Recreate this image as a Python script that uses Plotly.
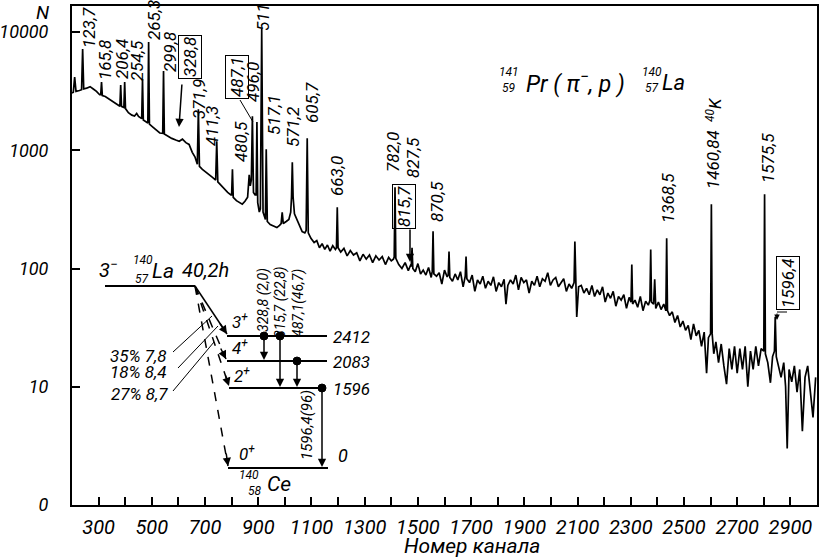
import plotly.graph_objects as go

# ---------------- data ----------------
channels_a = [200, 205, 210, 215, 228, 236, 240, 244, 255, 268, 280, 292,
              304, 308, 311, 314, 325, 340, 355, 370, 380, 383, 386, 395,
              398, 401, 412, 425, 435, 443, 450, 462, 465, 468, 480, 485,
              488, 491, 505, 518, 530, 541, 544, 547, 560, 575, 590, 603,
              615, 628, 640, 652, 662, 671, 675, 679, 690, 702, 715, 728,
              740, 744, 748, 760, 772, 785, 797, 800, 803, 806, 818, 830,
              840, 850, 860, 866, 870]
counts_a = [3050, 3100, 4150, 3150, 3200, 3250, 7180, 3300, 3350, 3450, 3300, 3150,
            2950, 2950, 3770, 2900, 2850, 2700, 2550, 2420, 2360, 3560, 2350, 2300,
            3770, 2250, 2080, 1980, 1950, 2050, 1930, 1850, 4000, 1800, 1720, 1700,
            8230, 1660, 1560, 1470, 1400, 1390, 4670, 1370, 1310, 1260, 1220, 1190,
            1240, 1160, 1120, 960, 880, 760, 2225, 730, 690, 660, 630, 590,
            560, 1192, 540, 505, 470, 440, 420, 420, 690, 400, 375, 360,
            350, 370, 400, 620, 500]

channels_b = [874, 878, 882, 888, 892, 895, 898, 904, 908, 913, 918, 924,
              927, 930, 934, 945, 958, 970, 980, 986, 990, 994, 1005, 1015,
              1022, 1025, 1028, 1031, 1036, 1045, 1055, 1065, 1075, 1080, 1084, 1088,
              1098, 1110, 1120, 1130, 1140, 1150, 1160, 1170, 1180, 1190, 1194, 1197,
              1200, 1210, 1222, 1234, 1246, 1258, 1270, 1282, 1294, 1306, 1318, 1330,
              1342, 1354, 1366, 1378, 1390, 1400, 1408, 1411, 1414, 1417]
counts_b = [560, 1940, 440, 420, 420, 1730, 360, 300, 320, 10600, 300, 270,
            260, 1020, 250, 235, 228, 222, 232, 240, 298, 240, 250, 260,
            300, 400, 790, 400, 290, 260, 225, 205, 200, 210, 1264, 200,
            180, 166, 172, 150, 162, 145, 158, 140, 156, 145, 150, 329,
            150, 138, 148, 128, 142, 130, 136, 116, 132, 120, 130, 112,
            128, 118, 126, 108, 124, 116, 120, 125, 486, 122]

channels_c = [1428, 1440, 1452, 1464, 1472, 1475, 1478, 1481, 1490, 1500, 1510, 1520,
              1530, 1540, 1550, 1554, 1557, 1560, 1570, 1580, 1590, 1600, 1610, 1614,
              1617, 1620, 1630, 1640, 1650, 1660, 1670, 1678, 1681, 1684, 1694, 1704,
              1714, 1724, 1734, 1744, 1754, 1764, 1774, 1784, 1794, 1804, 1814, 1824,
              1831, 1838, 1848, 1858, 1868, 1878, 1888, 1898, 1908, 1918, 1928, 1938,
              1948, 1958, 1968, 1978, 1988, 1998, 2008, 2018, 2028, 2038, 2048, 2058,
              2068, 2078, 2087, 2090, 2093, 2097, 2104, 2114, 2124, 2134, 2144, 2154,
              2164, 2174, 2184, 2194, 2204, 2214, 2224, 2234, 2244, 2254, 2264, 2274,
              2284, 2294, 2301, 2304, 2307, 2316, 2326, 2336, 2346, 2356, 2366, 2372,
              2375, 2378, 2386, 2390, 2394, 2404, 2414, 2424, 2432, 2435, 2438, 2446,
              2456, 2466, 2476, 2486, 2496, 2506, 2516, 2526, 2536, 2546, 2556, 2566,
              2576, 2585, 2592, 2600, 2603, 2606]
counts_c = [108, 100, 112, 96, 106, 104, 150, 100, 94, 110, 90, 97,
            88, 102, 84, 95, 206, 90, 86, 92, 74, 97, 85, 88,
            139, 84, 78, 90, 80, 94, 70, 86, 126, 82, 76, 88,
            64, 80, 74, 86, 68, 78, 72, 85, 64, 76, 70, 81,
            50, 72, 80, 74, 88, 66, 84, 76, 80, 62, 78, 72,
            86, 70, 82, 78, 92, 72, 80, 84, 70, 76, 82, 64,
            74, 68, 76, 169, 72, 39, 70, 72, 62, 68, 60, 72,
            58, 66, 60, 70, 52, 62, 56, 64, 48, 58, 54, 60,
            46, 57, 52, 108, 50, 54, 47, 58, 44, 53, 49, 54,
            145, 52, 50, 81, 46, 52, 45, 50, 44, 180, 44, 40,
            43, 35, 40, 32, 36, 30, 33, 25, 34, 27, 30, 22,
            29, 13, 26, 28, 349, 28]

channels_d = [2612, 2620, 2630, 2640, 2650, 2660, 2670, 2680, 2690, 2700, 2710, 2720,
              2730, 2740, 2750, 2760, 2770, 2780, 2790, 2800, 2803, 2806, 2815, 2825,
              2833, 2840, 2843, 2847, 2855, 2865, 2875, 2882, 2888, 2895, 2905, 2915,
              2925, 2935, 2945, 2955, 2965, 2975, 2985, 2995]
counts_d = [19, 24, 16, 23, 15, 10.5, 21, 14, 22, 13, 21, 14,
            22, 10, 20, 14, 22, 15, 21, 20, 424, 19, 16, 10.8,
            18, 20, 39, 18, 15, 12, 16, 10, 3.0, 14, 11, 15,
            9, 14, 4.2, 12, 15, 9, 5.5, 12]

channels = channels_a + channels_b + channels_c + channels_d
counts = counts_a + counts_b + counts_c + counts_d
assert len(channels) == len(counts)

x_tick_values = list(range(300, 3000, 100))
x_tick_labels = [str(v) if (v // 100) % 2 == 1 else "" for v in x_tick_values]
y_tick_values = [1, 10, 100, 1000, 10000]
y_tick_labels = ["0", "10", "100", "1000", "10000"]

peak_labels = ["123,7", "165,8", "206,4", "254,5", "265,3", "299,8", "328,8",
               "371,9", "411,3", "480,5", "487,1", "496,0", "511", "517,1",
               "571,2", "605,7", "663,0", "782,0", "827,5", "815,7", "870,5",
               "1368,5", "1460,84", "1575,5", "1596,4"]
boxed_labels = ["328,8", "487,1", "815,7", "1596,4"]

# ---------------- layout helpers (pixel positions of the drawing) ----------------
L, R, T, B = 72, 817, 6, 505
FONT = "Roboto, 'Liberation Sans', sans-serif"


def px(x):
    return (x - L) / (R - L)


def py(y):
    return (B - y) / (B - T)


def ann(text, x, y, size=17, angle=0, box=False, xanchor="center"):
    d = dict(text=text, x=px(x), y=py(y), xref="paper", yref="paper",
             showarrow=False, textangle=angle, xanchor=xanchor, yanchor="middle",
             font=dict(family=FONT, size=size, color="black", style="italic"))
    if box:
        d.update(bordercolor="black", borderwidth=1, borderpad=1)
    return d


def arrow(x0, y0, x1, y1, width=1.5):
    return dict(x=px(x1), y=py(y1), ax=x0 - x1, ay=y0 - y1, xref="paper", yref="paper",
                axref="pixel", ayref="pixel", showarrow=True, arrowhead=2,
                arrowsize=1.1, arrowwidth=width, arrowcolor="black", text="", standoff=0)


def seg(x0, y0, x1, y1, width=2, dash="solid"):
    return dict(type="line", xref="paper", yref="paper", x0=px(x0), y0=py(y0),
                x1=px(x1), y1=py(y1), line=dict(color="black", width=width, dash=dash))


def dot(x, y, r=4):
    return dict(type="circle", xref="paper", yref="paper", xsizemode="pixel",
                ysizemode="pixel", xanchor=px(x), yanchor=py(y), x0=-r, x1=r,
                y0=-r, y1=r, fillcolor="black", line=dict(color="black", width=1))


fig = go.Figure()
fig.add_trace(go.Scatter(x=channels, y=counts, mode="lines",
                         line=dict(color="black", width=1.7), hoverinfo="skip"))

# peak label positions (pixel centres)
label_pos = [(89, 28), (105, 60), (122, 59), (137, 61), (154, 20), (170, 52), (190, 57),
             (199, 99), (212, 126), (241, 142), (237, 77), (253, 82), (263, 17), (274, 115),
             (293, 127), (312, 103), (337, 176), (393, 152), (413, 158), (404, 207), (437, 202),
             (668, 198), (713, 160), (768, 158), (788, 283)]

annotations = []
shapes = []
for txt, (lx, ly) in zip(peak_labels, label_pos):
    annotations.append(ann(txt, lx, ly, size=17, angle=-90, box=txt in boxed_labels))
annotations.append(ann("<sup>40</sup>K", 714, 110, size=17, angle=-90))

# markers of the peaks
annotations.append(arrow(182, 83, 179, 127))
annotations.append(arrow(410, 228, 410, 262))
shapes.append(seg(240, 100, 253, 122, width=1))
shapes.append(seg(787, 312, 777, 312, width=1))
annotations.append(arrow(777, 312, 777, 320, width=1))

# reaction
annotations += [
    ann("141", 509, 72, size=12), ann("59", 509, 88, size=12),
    ann("Pr ( <i>π</i><sup>−</sup>, p )", 524, 82, size=23, xanchor="left"),
    ann("140", 652, 72, size=12), ann("57", 652, 88, size=12),
    ann("La", 660, 82, size=22, xanchor="left"),
]

# axis captions
annotations.append(ann("N", 42, 12, size=19))
annotations.append(ann("Номер канала", 472, 546, size=21))

# ---------------- decay scheme ----------------
annotations += [
    ann("3<sup>−</sup>", 108, 269, size=20),
    ann("140", 143, 260, size=12), ann("57", 142, 279, size=12),
    ann("La", 150, 271, size=21, xanchor="left"),
    ann("40,2h", 180, 270, size=20, xanchor="left"),
    ann("3<sup>+</sup>", 240, 321, size=17), ann("4<sup>+</sup>", 240, 347, size=17),
    ann("2<sup>+</sup>", 242, 375, size=17), ann("0<sup>+</sup>", 247, 453, size=17),
    ann("2412", 331, 337, size=17, xanchor="left"),
    ann("2083", 331, 362, size=17, xanchor="left"),
    ann("1596", 331, 389, size=17, xanchor="left"),
    ann("0", 336, 455, size=18, xanchor="left"),
    ann("140", 249, 475, size=12), ann("58", 255, 491, size=12),
    ann("Ce", 265, 484, size=21, xanchor="left"),
    ann("35% 7,8", 138, 356, size=17), ann("18% 8,4", 138, 372, size=17),
    ann("27% 8,7", 139, 394, size=17),
    ann("328,8 (2,0)", 264, 300, size=14, angle=-90),
    ann("815,7 (22,8)", 281, 302, size=14, angle=-90),
    ann("487,1(46,7)", 298, 303, size=14, angle=-90),
    ann("1596,4(96)", 307, 425, size=15, angle=-90),
]
# levels
shapes += [
    seg(105, 286, 195, 286),
    seg(227, 336, 327, 336),
    seg(227, 361, 327, 361),
    seg(229, 388, 323, 388),
    seg(228, 468, 328, 468),
]
# beta branches
shapes += [
    seg(195, 286, 227, 334, width=1.5),
    seg(195, 286, 226, 359, width=1.5, dash="dash"),
    seg(195, 286, 229, 386, width=1.5, dash="dash"),
    seg(195, 286, 228, 466, width=1.5, dash="dash"),
]
annotations += [
    arrow(219, 322, 227, 334),
    arrow(220, 347, 226, 359),
    arrow(225, 374, 229, 386),
    arrow(226, 452, 228, 466),
]
# leaders of the branch intensities
shapes += [
    seg(173, 352, 212, 316, width=1),
    seg(178, 368, 218, 326, width=1),
    seg(173, 391, 214, 342, width=1),
]
# gamma transitions
annotations += [
    arrow(264, 336, 264, 360),
    arrow(280, 336, 280, 387),
    arrow(297, 361, 297, 387),
    arrow(322, 388, 322, 467),
]
shapes += [dot(264, 336), dot(280, 336), dot(297, 361), dot(322, 388)]

fig.update_layout(
    width=821, height=557,
    margin=dict(l=L, r=821 - R, t=T, b=557 - B, autoexpand=False),
    plot_bgcolor="white", paper_bgcolor="white", showlegend=False,
    font=dict(family=FONT, style="italic", color="black", size=18),
    annotations=annotations, shapes=shapes,
    xaxis=dict(range=[200, 3000], tickmode="array", tickvals=x_tick_values,
               ticktext=x_tick_labels, ticks="inside", ticklen=8, tickwidth=1.5,
               tickcolor="black", showline=True, linewidth=2, linecolor="black",
               mirror=True, showgrid=False, zeroline=False, automargin=False,
               tickfont=dict(family=FONT, size=20, style="italic"), ticklabelstandoff=3),
    yaxis=dict(type="log", range=[0, 4.22], tickmode="array", tickvals=y_tick_values,
               ticktext=y_tick_labels, ticks="inside", ticklen=8, tickwidth=1.5,
               tickcolor="black", showline=True, linewidth=2, linecolor="black",
               mirror=True, showgrid=False, zeroline=False, automargin=False,
               tickfont=dict(family=FONT, size=18, style="italic"), ticklabelstandoff=18),
)

fig.write_html("out.html", config={"displayModeBar": False},
               post_script="document.body.style.margin='0';")
